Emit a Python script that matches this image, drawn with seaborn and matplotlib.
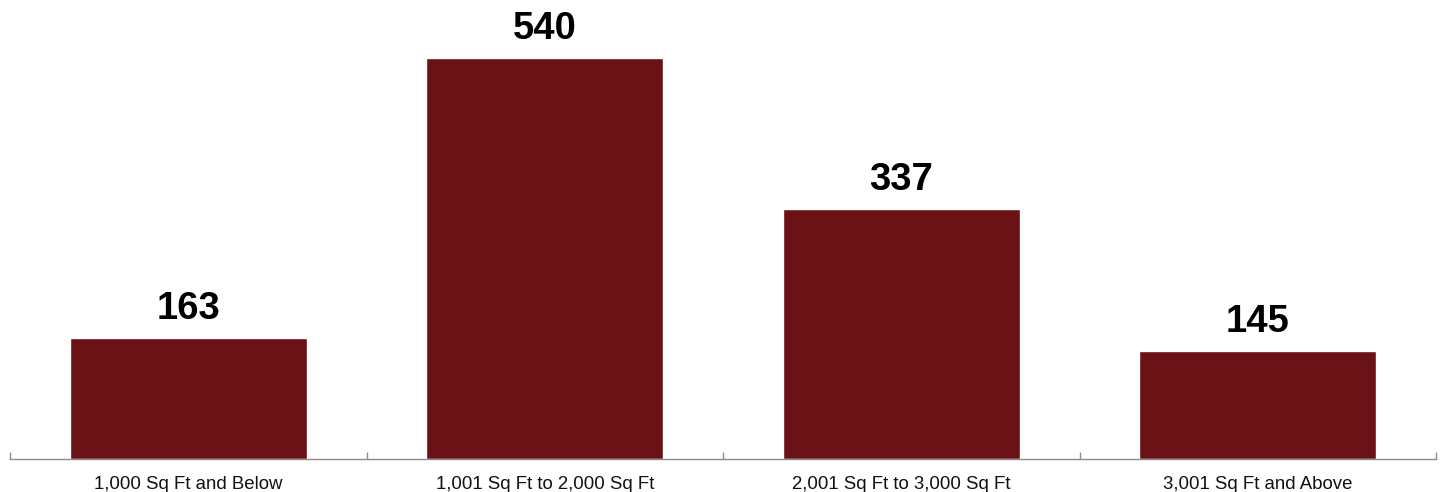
import matplotlib
matplotlib.use("Agg")
import matplotlib.pyplot as plt
import seaborn as sns
import pandas as pd
import numpy as np

categories = ["1,000 Sq Ft and Below", "1,001 Sq Ft to 2,000 Sq Ft",
              "2,001 Sq Ft to 3,000 Sq Ft", "3,001 Sq Ft and Above"]
counts = [163, 540, 337, 145]

BAR_COLOR = "#6B1216"
AXIS_GRAY = "#8C8C8C"

sns.set_style("white")
plt.rcParams["font.family"] = ["Liberation Sans", "DejaVu Sans"]

df = pd.DataFrame({"size": categories, "count": counts})

fig = plt.figure(figsize=(14.42, 4.92), dpi=100)
ax = fig.add_axes([10 / 1442, 33 / 492, 1426 / 1442, 459 / 492])

sns.barplot(data=df, x="size", y="count", color=BAR_COLOR, width=0.665,
            saturation=1, ax=ax)

ax.set_xlim(-0.5, len(categories) - 0.5)
ax.set_ylim(0, 618)

# value labels
for i, v in enumerate(counts):
    ax.annotate(f"{v}", (i, v), xytext=(0, 8), textcoords="offset points",
                ha="center", va="bottom", fontsize=27.5, fontweight="bold",
                color="black")

# category boundaries as ticks, labels centred under bars
ax.set_xticks(np.arange(-0.5, len(categories), 1.0), minor=False)
ax.set_xticklabels([])
ax.set_xticks(np.arange(len(categories)), minor=True)
ax.set_xticklabels(categories, minor=True, fontsize=13.4, color="#111111")
ax.tick_params(axis="x", which="major", bottom=True, direction="in",
               length=5, width=1, color=AXIS_GRAY)
ax.tick_params(axis="x", which="minor", bottom=True, length=0, pad=12)
ax.set_yticks([])
ax.set_xlabel("")
ax.set_ylabel("")

for s in ["top", "right", "left"]:
    ax.spines[s].set_visible(False)
ax.spines["bottom"].set_color(AXIS_GRAY)
ax.spines["bottom"].set_linewidth(1)

fig.savefig("out.png", dpi=100)
